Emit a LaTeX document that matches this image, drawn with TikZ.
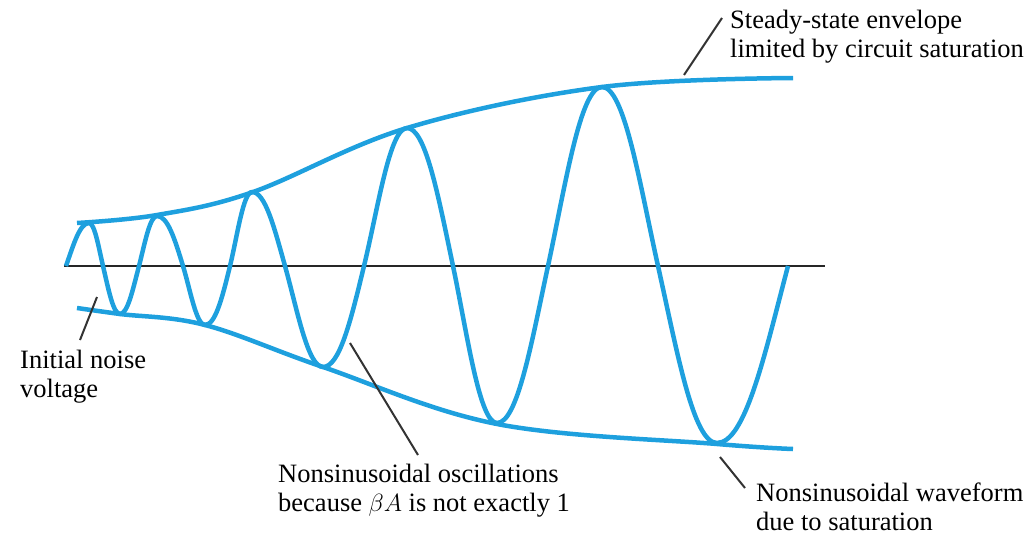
\documentclass[tikz,border=0pt]{standalone}
\usepackage{fontspec}
\setmainfont{Liberation Serif}
\usepackage{tikz}
\usetikzlibrary{positioning}
\definecolor{wavecyan}{RGB}{30,160,222}

\begin{document}
\begin{tikzpicture}[x=1pt, y=-1pt,
		font=\fontsize{26.5}{29}\selectfont,
		wave/.style={draw=wavecyan, line width=4.5pt, line join=round},
		env/.style={wave, line cap=butt},
		zeroline/.style={draw=black!85, line width=2.5pt},
		lead/.style={draw=black!80, line width=2pt},
		lbl/.style={anchor=base west, align=left, inner sep=0pt}
		]
		\useasboundingbox (0,0) rectangle (1030,535);
		% time axis
		\coordinate (axstart) at (64,266);
		\coordinate (axend) at (825,266);
		\draw[zeroline] (axstart) -- (axend);
		% envelopes
		\draw[env] plot[smooth, tension=0.6] coordinates
		{(77,223) (157,215) (253,192) (407,128) (602,87) (793,78)};
		\draw[env] plot[smooth, tension=0.6] coordinates
		{(77,308) (120,314) (205,325) (323,367) (497,424) (717,444) (793,449)};
		% growing oscillation, one quarter wave per segment
		\draw[wave] (66,266)
		.. controls (73.6,244.5) and (79.8,223) .. (89,223)
		.. controls (94.6,223) and (98.4,246.3) .. (103,266)
		.. controls (108.6,289.9) and (113.2,314) .. (120,314)
		.. controls (127.6,314) and (132.7,290.1) .. (139,266)
		.. controls (144.9,243.2) and (149.8,216) .. (157,216)
		.. controls (167.4,216) and (174.4,237.8) .. (183,266)
		.. controls (190.3,289.9) and (196.2,325) .. (205,325)
		.. controls (215,325) and (221.8,299.8) .. (230,266)
		.. controls (237.3,236.2) and (243.2,192) .. (252,192)
		.. controls (265.2,192) and (274.1,227.1) .. (285,266)
		.. controls (297.5,310.8) and (307.8,367) .. (323,367)
		.. controls (339.4,367) and (350.5,321.9) .. (364,266)
		.. controls (378.2,207.4) and (389.8,128) .. (407,128)
		.. controls (425.4,128) and (437.8,193.9) .. (453,266)
		.. controls (467.5,335) and (479.4,423) .. (497,423)
		.. controls (517.4,423) and (531.2,344.1) .. (548,266)
		.. controls (565.8,183.3) and (580.4,87) .. (602,87)
		.. controls (624.4,87) and (639.5,183) .. (658,266)
		.. controls (677.5,353.4) and (693.4,443) .. (717,443)
		.. controls (745.4,443) and (764.6,354.5) .. (788,266);
		% labels (base = last line)
		\node[lbl] (steady) at (730,58)
		{Steady-state envelope\\limited by circuit saturation};
		\node[lbl] (noise) at (20,397) {Initial noise\\voltage};
		\node[lbl] (nonsin) at (278,511)
		{Nonsinusoidal oscillations\\because $\beta A$ is not exactly 1};
		\node[lbl] (satwave) at (756,530)
		{Nonsinusoidal waveform\\due to saturation};
		% leaders
		\coordinate (steadytip) at (684,75);
		\coordinate (steadyfoot) at (722,18);
		\coordinate (noisetip) at (97,297);
		\coordinate (noisefoot) at (80,340);
		\coordinate (nonsintip) at (350,343);
		\coordinate (nonsinfoot) at (418,455);
		\coordinate (sattip) at (720,457);
		\coordinate (satfoot) at (745,488);
		\draw[lead] (steadyfoot) -- (steadytip);
		\draw[lead] (noisefoot) -- (noisetip);
		\draw[lead] (nonsinfoot) -- (nonsintip);
		\draw[lead] (satfoot) -- (sattip);
	\end{tikzpicture}
\end{document}
